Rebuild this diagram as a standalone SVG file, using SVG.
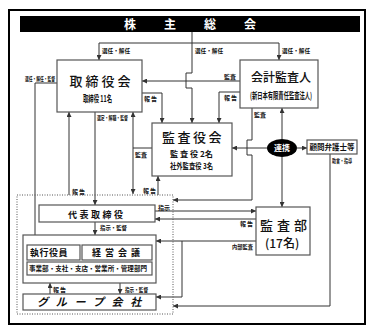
<svg xmlns="http://www.w3.org/2000/svg" width="374" height="333" viewBox="0 0 374 333">
<defs>
<marker id="ah" markerUnits="userSpaceOnUse" markerWidth="5" markerHeight="5" refX="5" refY="2.5" orient="auto">
<path d="M0,0 L5,2.5 L0,5 z" fill="#333"/>
</marker>
<style>
.box{fill:#fff;stroke:#555;stroke-width:1.2}
.ln{fill:none;stroke:#333;stroke-width:1}
.ar{marker-end:url(#ah)}
.t{font-family:"Noto Sans CJK JP","Noto Sans",sans-serif;font-weight:700;fill:#111}
.m{font-weight:500}
.ttl{font-size:13px}
.lb{font-size:6px}
.w{fill:#fff}
</style>
</defs>
<rect x="0" y="0" width="374" height="333" fill="#fff"/>
<rect x="9" y="10" width="356" height="314" fill="none" stroke="#000" stroke-width="2"/>
<g id="shareholders">
<rect x="20" y="16" width="340" height="16" fill="#000"/>
<text class="t w" x="124" y="28.5" font-size="12" letter-spacing="28">株主総会</text>
</g>
<g id="connectors">
<path class="ln" d="M192,32 V73 H186 V88 H192 V123" marker-end="url(#ah)"/>
<path class="ln ar" d="M192,43 H99 V60"/>
<path class="ln ar" d="M192,43 H279 V60"/>
<path class="ln ar" d="M240,81 H142"/>
<path class="ln ar" d="M240,92 H219 V123"/>
<path class="ln ar" d="M142,93 H162 V123"/>
<path class="ln" d="M152,148 H133"/>
<path class="ln ar" d="M133,148 V112"/>
<path class="ln ar" d="M133,148 V194"/>
<path class="ln ar" d="M95,112 V205"/>
<path class="ln ar" d="M69,195 V112"/>
<path class="ln ar" d="M57,83 H35 V246"/>
<path class="ln ar" d="M158,195 V176"/>
<path class="ln ar" d="M252,108 V140 H247 V155 H252 V200 H173"/>
<path class="ln ar" d="M282,139 V108"/>
<path class="ln ar" d="M282,157 V207"/>
<path class="ln ar" d="M267,148 H232"/>
<path class="ln ar" d="M297,148 H307"/>
<path class="ln ar" d="M330,154 V306 H173"/>
<path class="ln ar" d="M155,211 H256"/>
<path class="ln ar" d="M256,219 H155"/>
<path class="ln ar" d="M256,241 H156"/>
<path class="ln ar" d="M182,241 V297 H156"/>
<path class="ln ar" d="M95,222 V235"/>
<path class="ln ar" d="M120,283 V294"/>
<path class="ln ar" d="M50,294 V283"/>
<text class="t lb" x="102" y="53" textLength="28" lengthAdjust="spacingAndGlyphs">選任・解任</text>
<text class="t lb" x="195" y="53" textLength="28" lengthAdjust="spacingAndGlyphs">選任・解任</text>
<text class="t lb" x="282" y="53" textLength="28" lengthAdjust="spacingAndGlyphs">選任・解任</text>
<text class="t lb" x="224" y="79">監査</text>
<text class="t lb" x="224" y="100" letter-spacing="1">報告</text>
<text class="t lb" x="144" y="101" letter-spacing="1">報告</text>
<text class="t lb" x="135" y="157">監査</text>
<text class="t lb" x="25" y="81" textLength="30" lengthAdjust="spacingAndGlyphs">選任・解任・監督</text>
<text class="t lb" x="97" y="120" textLength="31" lengthAdjust="spacingAndGlyphs">選定・解職・監督</text>
<text class="t lb" x="72" y="194" letter-spacing="1">報告</text>
<text class="t lb" x="143" y="193" letter-spacing="1">報告</text>
<text class="t lb" x="254" y="117">監査</text>
<text class="t lb" x="332" y="163" textLength="20" lengthAdjust="spacingAndGlyphs">助言・指導</text>
<text class="t lb" x="158" y="210">指示</text>
<text class="t lb" x="240" y="226" letter-spacing="1">報告</text>
<text class="t lb" x="232" y="249" textLength="21" lengthAdjust="spacingAndGlyphs">内部監査</text>
<text class="t lb" x="100" y="230" textLength="27" lengthAdjust="spacingAndGlyphs">指示・監督</text>
<text class="t lb" x="53" y="292" letter-spacing="1">報告</text>
<text class="t lb" x="125" y="292" textLength="23" lengthAdjust="spacingAndGlyphs">指示・監督</text>
</g>
<g id="board">
<rect class="box" x="57" y="60" width="85" height="52"/>
<text class="t ttl m" x="69.5" y="86" letter-spacing="3">取締役会</text>
<text class="t" x="83" y="101.5" font-size="9" textLength="29" lengthAdjust="spacingAndGlyphs">取締役 11名</text>
</g>
<g id="auditor">
<rect class="box" x="240" y="60" width="78" height="48"/>
<text class="t m" x="251" y="82" font-size="12">会計監査人</text>
<text class="t" x="250" y="99" font-size="9" textLength="62" lengthAdjust="spacingAndGlyphs">(新日本有限責任監査法人)</text>
</g>
<g id="kansayakukai">
<rect class="box" x="152" y="123" width="80" height="53"/>
<text class="t ttl m" x="162" y="142" letter-spacing="2.5">監査役会</text>
<text class="t" x="170" y="157" font-size="8" textLength="43" lengthAdjust="spacingAndGlyphs">監 査 役 2名</text>
<text class="t" x="170" y="169" font-size="8" textLength="43" lengthAdjust="spacingAndGlyphs">社外監査役 3名</text>
</g>
<g id="renkei">
<ellipse cx="282" cy="148" rx="15" ry="9" fill="#000"/>
<text class="t w" x="282" y="151" font-size="8" text-anchor="middle">連携</text>
</g>
<g id="lawyers">
<rect class="box" x="307" y="140" width="50" height="14"/>
<text class="t" x="332" y="150" font-size="7.5" text-anchor="middle">顧問弁護士等</text>
</g>
<g id="kansabu">
<rect class="box" x="256" y="207" width="54" height="48"/>
<text class="t m" x="260" y="229.5" font-size="13" letter-spacing="4">監査部</text>
<text class="t m" x="265" y="247.5" font-size="12">(17名)</text>
</g>
<g id="executive-group">
<rect x="17" y="195" width="156" height="119" fill="none" stroke="#555" stroke-width="1" stroke-dasharray="1,1.5"/>
</g>
<g id="representative">
<rect class="box" x="39" y="205" width="116" height="17"/>
<text class="t" x="68" y="218" font-size="9" letter-spacing="2.5">代表取締役</text>
</g>
<g id="management">
<rect class="box" x="23" y="235" width="133" height="48"/>
<rect class="box" x="27" y="245" width="53" height="15"/>
<text class="t" x="30" y="256" font-size="9" letter-spacing="0.5">執行役員</text>
<rect class="box" x="82" y="245" width="70" height="15"/>
<text class="t" x="92" y="256" font-size="9" letter-spacing="4">経営会議</text>
<rect class="box" x="27" y="262" width="125" height="13"/>
<text class="t" x="29" y="270.5" font-size="6.5" textLength="118" lengthAdjust="spacingAndGlyphs">事業部・支社・支店・営業所・管理部門</text>
</g>
<g id="group-companies">
<rect class="box" x="23" y="294" width="133" height="16"/>
<text class="t" x="37" y="306" font-size="11" font-style="italic" letter-spacing="7.8">グループ会社</text>
</g>
</svg>
